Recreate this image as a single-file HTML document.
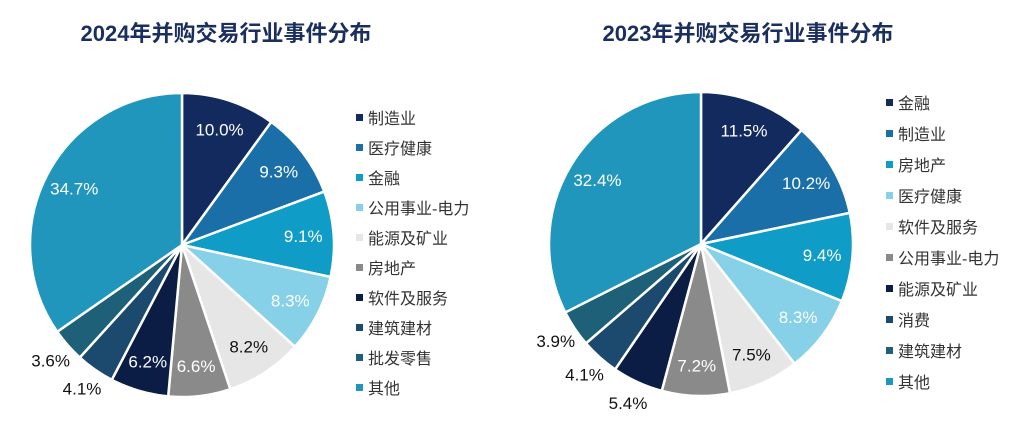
<!DOCTYPE html>
<html><head><meta charset="utf-8">
<style>
body{margin:0;width:1018px;height:421px;background:#fff;overflow:hidden;font-family:"Liberation Sans","Noto Sans CJK SC",sans-serif;}
svg{position:absolute;left:0;top:0}
</style></head><body>
<svg id="chart" width="1018" height="421">
<text x="226" y="41" text-anchor="middle" font-size="22" font-weight="bold" fill="#1b2f5e" font-family="Liberation Sans,Noto Sans CJK SC,sans-serif">2024年并购交易行业事件分布</text>
<text x="748" y="41" text-anchor="middle" font-size="22" font-weight="bold" fill="#1b2f5e" font-family="Liberation Sans,Noto Sans CJK SC,sans-serif">2023年并购交易行业事件分布</text>
</svg>
<script>
const palette=["#132a5e","#1a6fa8","#0f9cc7","#86d0e8","#e6e6e6","#8a8a8a","#0b1d45","#1c4a6e","#1d6078","#2196bd"];
const cats2024=["制造业","医疗健康","金融","公用事业-电力","能源及矿业","房地产","软件及服务","建筑建材","批发零售","其他"];
const vals2024=[10.0,9.3,9.1,8.3,8.2,6.6,6.2,4.1,3.6,34.7];
const cats2023=["金融","制造业","房地产","医疗健康","软件及服务","公用事业-电力","能源及矿业","消费","建筑建材","其他"];
const vals2023=[11.5,10.2,9.4,8.3,7.5,7.2,5.4,4.1,3.9,32.4];
const NS="http://www.w3.org/2000/svg";
const svg=document.getElementById('chart');
function mk(t,a){const e=document.createElementNS(NS,t);for(const k in a)e.setAttribute(k,a[k]);svg.appendChild(e);return e;}
function pie(cx,cy,r,cats,vals,lx,ly,step,tag){
  const tot=vals.reduce((a,b)=>a+b,0);
  let acc=0;
  vals.forEach((v,i)=>{
    const a0=acc/tot*2*Math.PI;acc+=v;const a1=acc/tot*2*Math.PI;
    const x0=cx+r*Math.sin(a0),y0=cy-r*Math.cos(a0),x1=cx+r*Math.sin(a1),y1=cy-r*Math.cos(a1);
    const large=(a1-a0)>Math.PI?1:0;
    const p=mk('path',{d:`M${cx},${cy}L${x0},${y0}A${r},${r} 0 ${large} 1 ${x1},${y1}Z`,fill:palette[i],stroke:"#fff","stroke-width":2.5});
    
    
    const am=(a0+a1)/2;
    const outside=v<6&&i>=6;
    const f=outside?1.15:0.8;
    const tx=cx+r*f*Math.sin(am),ty=cy-r*f*Math.cos(am);
    const light=(i===4)||outside;
    const t=mk('text',{x:tx,y:ty+6,"text-anchor":"middle","font-size":17,fill:light?"#111":"#fff"});
    t.textContent=v.toFixed(1)+"%";
    
    
  });
  cats.forEach((c,i)=>{
    const y=ly+i*step;
    const s=mk('rect',{x:lx,y:y-4,width:7,height:7,fill:palette[i]});
    
    
    const t=mk('text',{x:lx+12,y:y+6,"font-size":16,fill:"#333"});
    t.textContent=c;
    
    
  });
}
pie(182,245,152,cats2024,vals2024,356,118,30,'2024');
pie(701,244,152,cats2023,vals2023,886,103,31,'2023');
</script>
</body></html>
